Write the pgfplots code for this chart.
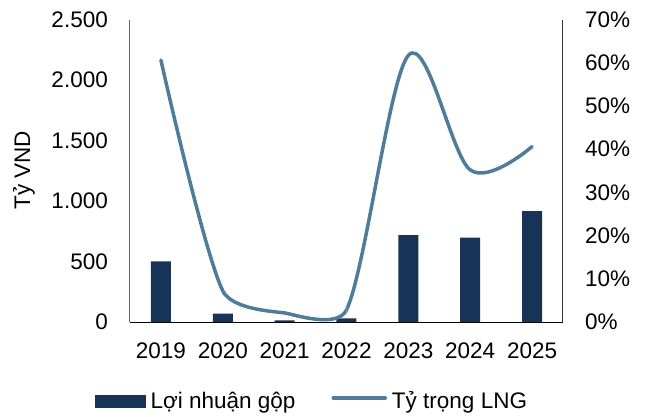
\documentclass[border=0pt]{standalone}
\usepackage{pgfplots}
\pgfplotsset{compat=1.18}
\usepackage{fontspec}
\setmainfont{Liberation Sans}
\definecolor{barc}{HTML}{173358}
\definecolor{linec}{HTML}{507C9C}
\newcommand{\ff}{\fontsize{22.5}{27}\selectfont}
\pgfplotstableread{
x y
0 60.6
1 7.2
2 2.1
3 2.8
4 61.7
5 35.2
6 40.6
}\lngtable
\begin{document}
\begin{tikzpicture}
\path[use as bounding box] (-130pt,-94pt) rectangle (515pt,322pt);
\begin{axis}[
  scale only axis, width=433pt, height=302.5pt,
  at={(0,0)}, anchor=south west,
  xmin=-0.5, xmax=6.5, ymin=0, ymax=2500,
  axis y line*=left, axis x line*=bottom,
  x axis line style={draw=black, line width=1pt},
  y axis line style={draw=black!60, line width=1pt},
  xtick={0,...,6}, xticklabels={2019,2020,2021,2022,2023,2024,2025},
  ytick={0,500,1000,1500,2000,2500},
  major tick length=0pt,
  scaled y ticks=false,
  /pgf/number format/.cd, 1000 sep={.}, assume math mode=true,
  /pgfplots/.cd,
  tick label style={font=\ff, inner sep=0pt},
  yticklabel style={xshift=-22pt},
  xticklabel style={yshift=-20.5pt},
  ylabel={Tỷ VND},
  ylabel style={font=\ff, at={(axis description cs:-0.245,0.502)}, anchor=center},
]
\addplot[ybar, bar width=20pt, fill=barc, draw=none] coordinates {
(0,502) (1,69) (2,14) (3,30) (4,719) (5,697) (6,916)};
\end{axis}
\begin{axis}[
  scale only axis, width=433pt, height=302.5pt,
  at={(0,0)}, anchor=south west,
  xmin=-0.5, xmax=6.5, ymin=0, ymax=70,
  axis y line*=right, axis x line=none,
  y axis line style={draw=black!80, line width=1pt},
  ytick={0,10,...,70},
  major tick length=0pt,
  /pgf/number format/.cd, assume math mode=true,
  /pgfplots/.cd,
  yticklabel={\pgfmathprintnumber{\tick}\%},
  tick label style={font=\ff, inner sep=0pt},
  yticklabel style={xshift=22pt},
  legend columns=2,
  legend style={at={(axis description cs:-0.0808,-0.261)}, anchor=west,
    draw=none, fill=none, inner sep=0pt, font=\ff,
    nodes={inner sep=0pt},
    /tikz/every odd column/.style={column sep=5pt},
    /tikz/every even column/.style={column sep=36pt}},
  lng/.style={smooth, color=linec, line width=3.5pt, line cap=round},
]
\addlegendimage{legend image code/.code={\fill[barc] (0pt,-6.5pt) rectangle (50pt,6pt);}}
\addlegendentry{Lợi nhuận gộp}
\begin{scope}
\clip (axis cs:-0.6,0) rectangle (axis cs:1,71);
\addplot[lng, tension=0.55,
  legend image code/.code={\draw[linec, line width=3.5pt, line cap=round] (0pt,3pt) -- (52pt,3pt);}]
  table[x=x,y=y] {\lngtable};
\addlegendentry{Tỷ trọng LNG}
\end{scope}
\begin{scope}
\clip (axis cs:1,0) rectangle (axis cs:3,71);
\addplot[lng, tension=0.27, forget plot] table[x=x,y=y] {\lngtable};
\end{scope}
\begin{scope}
\clip (axis cs:3,0) rectangle (axis cs:6.6,71);
\addplot[lng, tension=0.55, forget plot] table[x=x,y=y] {\lngtable};
\end{scope}
\end{axis}
\end{tikzpicture}
\end{document}
